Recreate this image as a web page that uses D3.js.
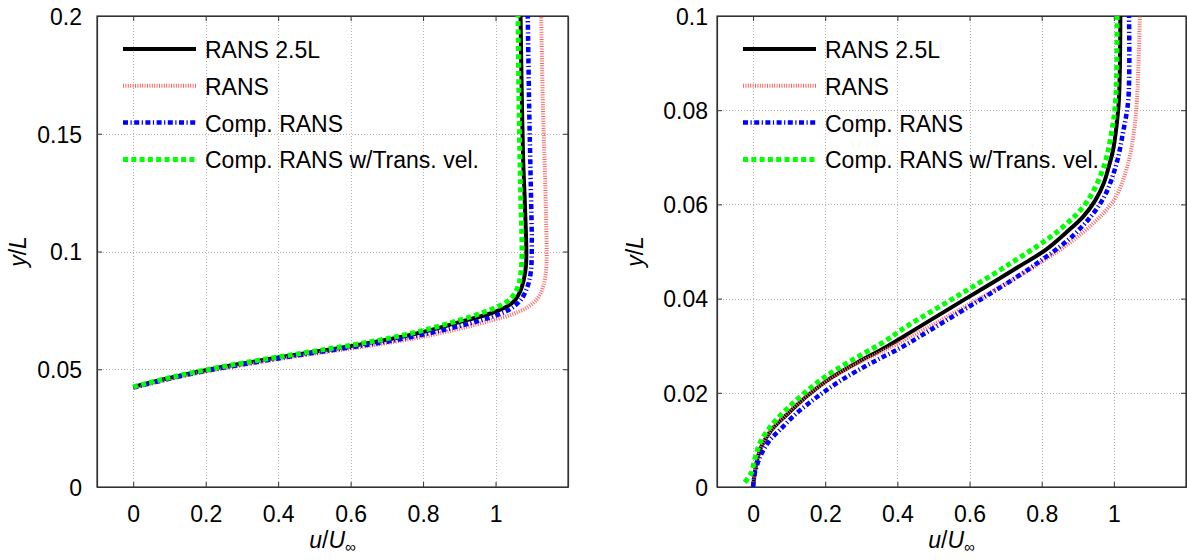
<!DOCTYPE html>
<html>
<head>
<meta charset="utf-8">
<script src="https://cdn.jsdelivr.net/npm/d3@7"></script>
<style>
  body { margin: 0; background: #fff; }
  text { font-family: "Liberation Sans", Arial, sans-serif; fill: #000; }
</style>
</head>
<body>
<div class="chart"></div>
<script>
var svgWidth = 1187;
var svgHeight = 560;

// series names (legend order = drawing order)
var seriesNames = ["RANS 2.5L", "RANS", "Comp. RANS", "Comp. RANS w/Trans. vel."];

// tick values
var xTicks = [0, 0.2, 0.4, 0.6, 0.8, 1];
var leftYTicks = [0, 0.05, 0.1, 0.15, 0.2];
var rightYTicks = [0, 0.02, 0.04, 0.06, 0.08, 0.1];

// left panel
var leftU_rans25 = [0, 0.1, 0.2, 0.3, 0.4, 0.5, 0.6, 0.7, 0.8, 0.9, 0.96, 1.0, 1.03, 1.052, 1.068, 1.078, 1.084, 1.085, 1.081, 1.076, 1.072, 1.069];
var leftY_rans25 = [0.0425, 0.0463, 0.0496, 0.0524, 0.055, 0.0574, 0.0598, 0.0625, 0.0658, 0.07, 0.0725, 0.0745, 0.0765, 0.079, 0.083, 0.088, 0.094, 0.1, 0.12, 0.14, 0.17, 0.2];
var leftU_rans = [0, 0.1, 0.2, 0.3, 0.4, 0.5, 0.6, 0.7, 0.8, 0.9, 0.99, 1.05, 1.09, 1.118, 1.133, 1.14, 1.141, 1.137, 1.131, 1.126];
var leftY_rans = [0.042, 0.0458, 0.049, 0.0517, 0.0543, 0.0566, 0.0588, 0.0611, 0.0638, 0.0672, 0.0708, 0.0735, 0.0765, 0.0805, 0.086, 0.093, 0.1, 0.13, 0.16, 0.2];
var leftU_comp = [0, 0.1, 0.2, 0.3, 0.4, 0.5, 0.6, 0.7, 0.8, 0.9, 0.96, 1.0, 1.04, 1.07, 1.088, 1.097, 1.1, 1.097, 1.093, 1.089];
var leftY_comp = [0.0422, 0.046, 0.0493, 0.052, 0.0546, 0.057, 0.0593, 0.0617, 0.0647, 0.0683, 0.0708, 0.0728, 0.0755, 0.0795, 0.085, 0.091, 0.1, 0.13, 0.16, 0.2];
var leftU_trans = [0, 0.1, 0.2, 0.3, 0.4, 0.5, 0.6, 0.7, 0.8, 0.9, 0.96, 1.0, 1.03, 1.05, 1.063, 1.07, 1.073, 1.07, 1.066, 1.062];
var leftY_trans = [0.0425, 0.0464, 0.0497, 0.0526, 0.0552, 0.0577, 0.0602, 0.063, 0.0665, 0.0708, 0.0738, 0.0762, 0.0785, 0.0815, 0.0855, 0.091, 0.1, 0.12, 0.15, 0.2];

// right panel
var rightU_rans25 = [0, 0.009, 0.023, 0.051, 0.097, 0.148, 0.207, 0.286, 0.37, 0.446, 0.59, 0.66, 0.737, 0.81, 0.866, 0.915, 0.949, 0.972, 0.986, 0.998, 1.005, 1.014, 1.018];
var rightY_rans25 = [0, 0.005, 0.0086, 0.0121, 0.0156, 0.0192, 0.0227, 0.0263, 0.0298, 0.0333, 0.04, 0.0432, 0.0468, 0.0503, 0.0539, 0.0574, 0.0609, 0.0645, 0.068, 0.0716, 0.0751, 0.0822, 0.1];
var rightU_rans = [0, 0.009, 0.023, 0.05, 0.095, 0.147, 0.208, 0.29, 0.385, 0.475, 0.62, 0.78, 0.912, 1.0, 1.037, 1.055, 1.064, 1.072];
var rightY_rans = [0, 0.005, 0.0086, 0.0121, 0.0156, 0.0192, 0.0227, 0.0263, 0.0298, 0.0335, 0.0397, 0.0468, 0.0539, 0.0609, 0.068, 0.0751, 0.0822, 0.1];
var rightU_comp = [0, 0.005, 0.02, 0.045, 0.074, 0.12, 0.179, 0.245, 0.327, 0.415, 0.495, 0.635, 0.774, 0.894, 0.968, 1.005, 1.025, 1.04, 1.042];
var rightY_comp = [0, 0.003, 0.0065, 0.0098, 0.0121, 0.0156, 0.0192, 0.0227, 0.0263, 0.0298, 0.0335, 0.04, 0.0468, 0.0539, 0.0609, 0.068, 0.0751, 0.0822, 0.1];
var rightU_trans = [-0.023, -0.005, 0.005, 0.02, 0.05, 0.09, 0.14, 0.2, 0.28, 0.36, 0.43, 0.565, 0.72, 0.848, 0.925, 0.972, 0.993, 1.005, 1.009];
var rightY_trans = [0.001, 0.003, 0.006, 0.0095, 0.013, 0.0163, 0.0198, 0.0234, 0.0272, 0.0307, 0.0343, 0.0405, 0.0478, 0.0545, 0.0605, 0.068, 0.075, 0.0822, 0.1];

var styles = [
  { color: "#000000", width: 4, dash: null },
  { color: "#ff6363", width: 4, dash: "1,1.4" },
  { color: "#0000ff", width: 4.5, dash: "5,2.5,1.2,2.5" },
  { color: "#00ff00", width: 5, dash: "5,3.3" }
];

function zipSeries(us, ys) {
  return us.map(function(u, i) { return { u: u, y: ys[i] }; });
}

var leftSeries = [
  zipSeries(leftU_rans25, leftY_rans25),
  zipSeries(leftU_rans, leftY_rans),
  zipSeries(leftU_comp, leftY_comp),
  zipSeries(leftU_trans, leftY_trans)
];
var rightSeries = [
  zipSeries(rightU_rans25, rightY_rans25),
  zipSeries(rightU_rans, rightY_rans),
  zipSeries(rightU_comp, rightY_comp),
  zipSeries(rightU_trans, rightY_trans)
];

var svg = d3
  .select(".chart")
  .append("svg")
  .attr("width", svgWidth)
  .attr("height", svgHeight);

function drawPanel(opts) {
  var x = d3.scaleLinear().domain([-0.1, 1.2]).range([opts.left, opts.right]);
  var y = d3.scaleLinear().domain([0, opts.yMax]).range([487, 16]);

  var g = svg.append("g");

  // dotted grid
  g.selectAll(".vgrid")
    .data(xTicks)
    .enter()
    .append("line")
    .attr("x1", d => Math.round(x(d)) + 0.5)
    .attr("x2", d => Math.round(x(d)) + 0.5)
    .attr("y1", y(opts.yMax))
    .attr("y2", y(0))
    .attr("stroke", "#b3b3b3")
    .attr("stroke-dasharray", "1,2");

  g.selectAll(".hgrid")
    .data(opts.yTicks)
    .enter()
    .append("line")
    .attr("y1", d => Math.round(y(d)) + 0.5)
    .attr("y2", d => Math.round(y(d)) + 0.5)
    .attr("x1", opts.left)
    .attr("x2", opts.right)
    .attr("stroke", "#b3b3b3")
    .attr("stroke-dasharray", "1,2");

  // axes with inward ticks on all four sides
  var bottom = d3.axisBottom(x).tickValues(xTicks).tickSizeInner(-5).tickSizeOuter(0).tickFormat(d3.format("~g"));
  var top = d3.axisTop(x).tickValues(xTicks).tickSizeInner(-5).tickSizeOuter(0).tickFormat("");
  var leftAx = d3.axisLeft(y).tickValues(opts.yTicks).tickSizeInner(-5).tickSizeOuter(0).tickFormat(d3.format("~g"));
  var rightAx = d3.axisRight(y).tickValues(opts.yTicks).tickSizeInner(-5).tickSizeOuter(0).tickFormat("");

  var xb = g.append("g").attr("transform", `translate(0, ${y(0)})`).call(bottom);
  xb.selectAll("text").attr("dy", 0).attr("y", 35);
  g.append("g").attr("transform", `translate(0, ${y(opts.yMax)})`).call(top);
  var yl = g.append("g").attr("transform", `translate(${opts.left}, 0)`).call(leftAx);
  yl.selectAll("text").attr("x", -opts.labelGap).attr("dy", "0.36em");
  g.append("g").attr("transform", `translate(${opts.right}, 0)`).call(rightAx);

  g.selectAll(".domain").attr("stroke", "#333").attr("stroke-width", 1.2);
  g.selectAll(".tick line").attr("stroke", "#333");
  g.selectAll(".tick text").style("font-size", "23px").style("font-family", "'Liberation Sans', Arial, sans-serif");

  // frame
  g.append("rect")
    .attr("x", opts.left)
    .attr("y", y(opts.yMax))
    .attr("width", opts.right - opts.left)
    .attr("height", y(0) - y(opts.yMax))
    .attr("fill", "none")
    .attr("stroke", "#333")
    .attr("stroke-width", 1.2);

  // curves
  var line = d3.line()
    .x(d => x(d.u))
    .y(d => y(d.y))
    .curve(d3.curveCatmullRom.alpha(0.5));

  opts.series.forEach(function(s, i) {
    g.append("path")
      .datum(s)
      .attr("d", line)
      .attr("fill", "none")
      .attr("stroke", styles[i].color)
      .attr("stroke-width", styles[i].width)
      .attr("stroke-dasharray", styles[i].dash);
  });

  // legend (no box)
  var legend = g.append("g").attr("transform", `translate(${opts.left + 26}, 49)`);
  seriesNames.forEach(function(name, i) {
    var row = legend.append("g").attr("transform", `translate(0, ${i * 36.8})`);
    row.append("line")
      .attr("x1", 0)
      .attr("x2", 73)
      .attr("y1", 0)
      .attr("y2", 0)
      .attr("stroke", styles[i].color)
      .attr("stroke-width", styles[i].width)
      .attr("stroke-dasharray", styles[i].dash);
    row.append("text")
      .attr("x", 82)
      .attr("y", 9)
      .style("font-size", "23px")
      .text(name);
  });

  // axis labels
  var xl = g.append("text")
    .attr("x", (opts.left + opts.right) / 2)
    .attr("y", 548)
    .attr("text-anchor", "middle")
    .style("font-size", "23px");
  xl.append("tspan").style("font-style", "italic").text("u");
  xl.append("tspan").text("/");
  xl.append("tspan").style("font-style", "italic").text("U");
  xl.append("tspan").attr("dy", 4).style("font-size", "15px").text("\u221E");

  var ylab = g.append("text")
    .attr("transform", `translate(${opts.yLabelX}, ${(y(0) + y(opts.yMax)) / 2}) rotate(-90)`)
    .attr("text-anchor", "middle")
    .style("font-size", "23px");
  ylab.append("tspan").style("font-style", "italic").text("y");
  ylab.append("tspan").text("/");
  ylab.append("tspan").style("font-style", "italic").text("L");
}

drawPanel({ left: 97, right: 568, yMax: 0.2, yTicks: leftYTicks, series: leftSeries, labelGap: 15, yLabelX: 26 });
drawPanel({ left: 717, right: 1186, yMax: 0.1, yTicks: rightYTicks, series: rightSeries, labelGap: 9, yLabelX: 643 });
</script>
</body>
</html>
